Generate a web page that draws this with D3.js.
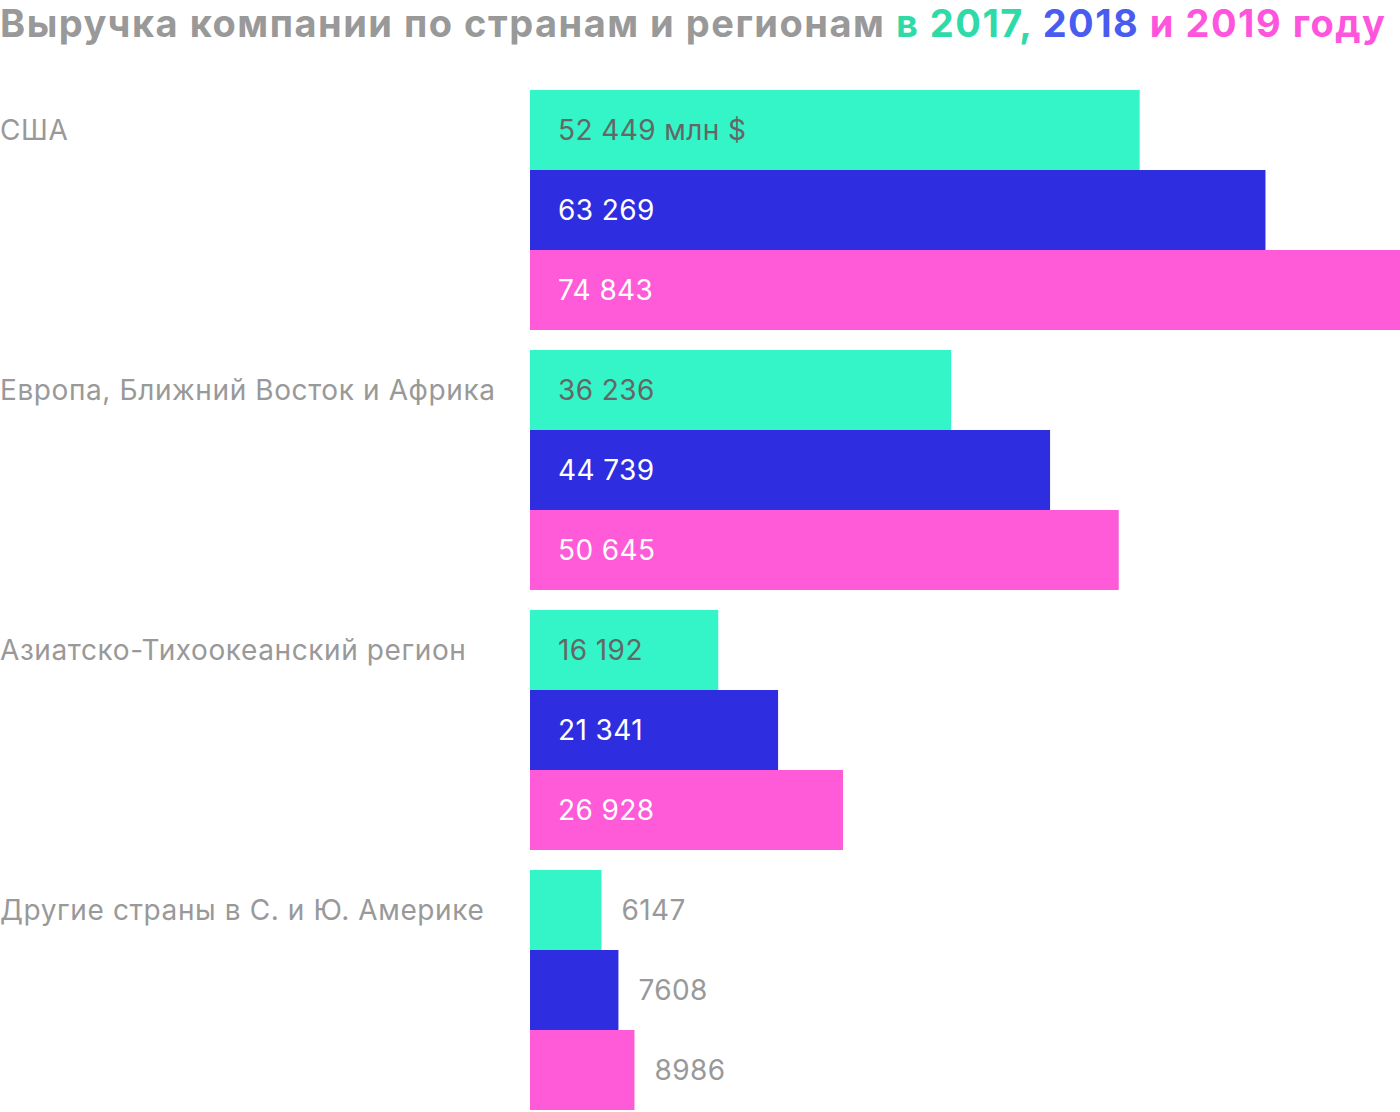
<!DOCTYPE html>
<html><head><meta charset="utf-8">
<script src="https://cdn.jsdelivr.net/npm/d3@7"></script>
<style>body{margin:0;background:#fff;}svg{display:block;}</style>
</head><body>
<svg id="chart" width="1400" height="1112"></svg>
<script>
const categories = ["США", "Европа, Ближний Восток и Африка", "Азиатско-Тихоокеанский регион", "Другие страны в С. и Ю. Америке"];
const years = ["2017", "2018", "2019"];
const values2017 = [52449, 36236, 16192, 6147];
const values2018 = [63269, 44739, 21341, 7608];
const values2019 = [74843, 50645, 26928, 8986];
const valueLabels2017 = ["52 449 млн $", "36 236", "16 192", "6147"];
const valueLabels2018 = ["63 269", "44 739", "21 341", "7608"];
const valueLabels2019 = ["74 843", "50 645", "26 928", "8986"];

const barColors = ["#33f5c8", "#2e2ee0", "#ff5ad8"];
const titleColors = ["#2edba8", "#4a5cf0", "#ff55dd"];
const font = "Inter, 'Noto Sans', sans-serif";

const svg = d3.select("#chart");

// Title
const title = svg.append("text").attr("x", 0).attr("y", 37)
  .attr("font-family", font).attr("font-weight", 700).attr("font-size", 38)
  .attr("textLength", 1385).attr("lengthAdjust", "spacing");
title.append("tspan").attr("fill", "#999").text("Выручка компании по странам и регионам ");
title.append("tspan").attr("fill", titleColors[0]).text("в 2017, ");
title.append("tspan").attr("fill", titleColors[1]).text("2018 ");
title.append("tspan").attr("fill", titleColors[2]).text("и 2019 году");

const series = [values2017, values2018, values2019];
const seriesLabels = [valueLabels2017, valueLabels2018, valueLabels2019];

const x = d3.scaleLinear().domain([0, d3.max(values2019)]).range([530, 1400]);
const y0 = d3.scaleBand().domain(categories).range([90, 1110]).paddingInner(20/260).paddingOuter(0);
const y1 = d3.scaleBand().domain(years).range([0, y0.bandwidth()]);

const groups = svg.selectAll("g.cat").data(categories).join("g")
  .attr("class", "cat").attr("transform", d => `translate(0,${y0(d)})`);

groups.append("text").attr("x", 0).attr("y", y1.bandwidth() / 2)
  .attr("dy", "0.35em").attr("fill", "#999").attr("font-family", font)
  .attr("font-size", 28).attr("letter-spacing", 0.6).text(d => d);

groups.each(function(cat, ci) {
  const g = d3.select(this);
  years.forEach((yr, si) => {
    const v = series[si][ci];
    const w = x(v) - x(0);
    g.append("rect").attr("x", x(0)).attr("y", y1(yr))
      .attr("width", w).attr("height", y1.bandwidth()).attr("fill", barColors[si]);
    const inside = w > 150;
    g.append("text")
      .attr("x", inside ? x(0) + 28 : x(v) + 20)
      .attr("y", y1(yr) + y1.bandwidth() / 2).attr("dy", "0.35em")
      .attr("font-family", font).attr("font-size", 28).attr("letter-spacing", 0.4)
      .attr("fill", inside ? (si === 0 ? "#666" : "#fff") : "#999")
      .text(seriesLabels[si][ci]);
  });
});
</script>
</body></html>
